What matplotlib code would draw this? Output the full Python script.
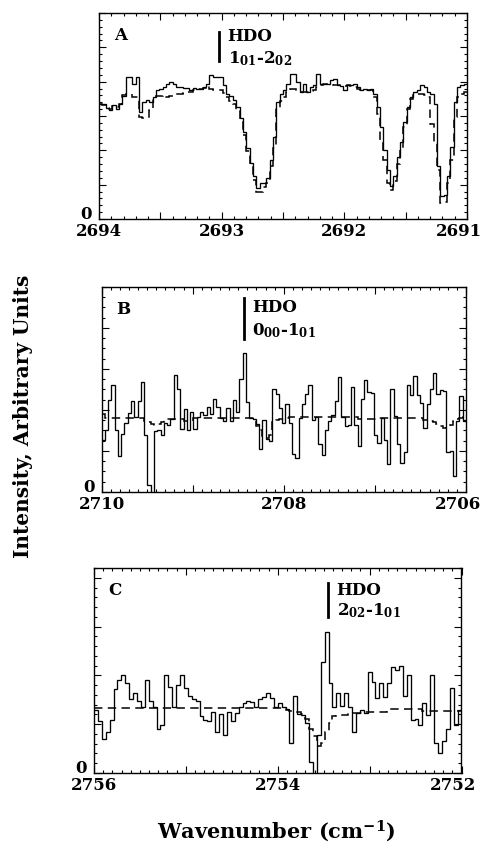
import numpy as np
import matplotlib
matplotlib.use("Agg")
import matplotlib.pyplot as plt
from matplotlib.ticker import MultipleLocator
from matplotlib.transforms import ScaledTranslation

plt.rcParams['font.family'] = ['DejaVu Serif']
plt.rcParams['font.weight'] = 'bold'
plt.rcParams['mathtext.fontset'] = 'dejavuserif'

# panel A: 2694 -> 2691 cm-1, values left to right as drawn
range_a = (2694, 2691)
flux_a = [3.36, 3.36, 3.22, 3.17, 3.33, 3.19, 3.36, 3.57, 4.15, 4.15,
          3.92, 4.15, 3.12, 3.41, 3.46, 3.41, 3.56, 3.77, 3.80, 3.85,
          3.94, 3.99, 3.92, 3.85, 3.85, 3.83, 3.83, 3.77, 3.83, 3.80,
          3.80, 3.85, 3.92, 4.18, 4.15, 4.15, 4.14, 3.89, 3.65, 3.57,
          3.46, 3.27, 2.93, 2.54, 2.06, 1.62, 1.24, 0.90, 1.04, 1.06,
          1.19, 1.72, 2.40, 3.41, 3.65, 3.75, 3.94, 4.23, 4.23, 3.99,
          3.70, 3.94, 3.70, 3.85, 3.89, 4.23, 3.94, 3.92, 3.92, 4.04,
          4.09, 3.89, 3.86, 3.75, 3.89, 3.89, 3.94, 3.85, 3.75, 3.80,
          3.75, 3.80, 3.65, 3.27, 2.69, 2.01, 1.43, 0.95, 1.24, 1.82,
          2.25, 2.83, 3.27, 3.56, 3.70, 3.75, 3.89, 3.85, 3.70, 3.65,
          3.36, 1.53, 0.66, 0.71, 1.24, 2.11, 3.41, 3.85, 3.89, 3.94]
model_a = [3.36, 3.32, 3.24, 3.20, 3.30, 3.26, 3.36, 3.60, 3.65, 3.65,
           3.54, 3.54, 2.98, 2.95, 2.95, 3.17, 3.50, 3.57, 3.57, 3.60,
           3.55, 3.57, 3.62, 3.65, 3.65, 3.68, 3.70, 3.70, 3.75, 3.80,
           3.80, 3.82, 3.86, 3.80, 3.77, 3.77, 3.75, 3.67, 3.55, 3.45,
           3.35, 3.15, 2.85, 2.45, 1.98, 1.55, 1.15, 0.80, 0.80, 0.92,
           1.05, 1.53, 2.06, 3.22, 3.45, 3.56, 3.70, 3.78, 3.80, 3.72,
           3.70, 3.70, 3.70, 3.72, 3.75, 3.85, 3.90, 3.92, 3.92, 3.92,
           3.90, 3.89, 3.89, 3.88, 3.89, 3.87, 3.85, 3.80, 3.77, 3.77,
           3.77, 3.75, 3.55, 3.07, 2.30, 1.72, 1.04, 0.85, 1.10, 1.60,
           2.01, 2.69, 3.20, 3.50, 3.60, 3.65, 3.65, 3.60, 3.56, 2.78,
           2.20, 1.43, 0.46, 0.50, 1.04, 1.72, 2.98, 3.56, 3.65, 3.70]

# panel B: 2710 -> 2706 cm-1
range_b = (2710, 2706)
flux_b = [1.28, 1.52, 2.24, 2.60, 1.52, 0.88, 1.42, 1.68, 1.92, 2.22,
          1.82, 2.22, 2.68, 1.40, 0.16, -0.30, 1.48, 1.52, 1.40, 1.68,
          1.64, 1.78, 2.86, 2.50, 1.54, 2.02, 1.52, 1.94, 1.54, 1.82,
          1.96, 1.88, 2.08, 1.90, 2.28, 2.08, 1.80, 1.74, 2.04, 1.72,
          2.24, 1.96, 2.76, 3.38, 2.20, 1.80, 1.78, 1.66, 1.04, 1.76,
          1.30, 1.24, 2.52, 2.40, 2.04, 1.68,
          2.14, 1.68, 0.92, 0.84, 1.80, 2.14, 2.40, 2.60, 1.76, 1.82,
          1.16, 0.90, 1.52, 1.74, 1.88, 2.22, 2.80, 1.84, 1.60, 1.64,
          2.56, 1.64, 1.12, 2.28, 2.72, 2.44, 2.42, 1.38, 1.20, 1.80,
          1.28, 0.68, 2.52, 1.86, 1.16, 0.70, 0.98, 2.60, 2.36, 2.82,
          2.36, 2.18, 1.56, 2.14, 2.52, 2.90, 2.40, 2.48, 2.46, 0.98,
          1.00, 0.40, 1.72, 2.34, 1.72]
model_b = [1.90, 1.81, 1.81, 1.81, 1.81, 1.81, 1.81, 1.81, 1.81, 1.81,
           1.81, 1.81, 1.81, 1.72, 1.70, 1.66, 1.64, 1.66, 1.70, 1.76,
           1.78, 1.78, 1.78, 1.78, 1.78, 1.72, 1.72, 1.72, 1.80, 1.80,
           1.80, 1.80, 1.80, 1.80, 1.80, 1.80, 1.80, 1.80, 1.80, 1.80,
           1.80, 1.80, 1.80, 1.80, 1.80, 1.80, 1.80, 1.62, 1.50, 1.36,
           1.32, 1.40, 1.70, 1.76, 1.78, 1.79, 1.80, 1.82, 1.82, 1.82,
           1.82, 1.82, 1.82, 1.82, 1.82, 1.82, 1.82, 1.82, 1.82, 1.82,
           1.82, 1.82, 1.82, 1.82, 1.82, 1.82, 1.82, 1.82, 1.78, 1.78,
           1.78, 1.78, 1.78, 1.78, 1.81, 1.81, 1.81, 1.81, 1.81, 1.81,
           1.81, 1.81, 1.81, 1.81, 1.81, 1.81, 1.81, 1.81, 1.76, 1.74,
           1.72, 1.70, 1.66, 1.60, 1.56, 1.58, 1.64, 1.72, 1.78, 1.80,
           1.82]

# panel C: 2756 -> 2752 cm-1
range_c = (2756, 2752)
flux_c = [1.30, 1.06, 0.70, 0.83, 1.09, 1.72, 1.91, 2.01, 1.84, 1.51,
          1.64, 1.47, 1.35, 1.90, 1.47, 1.35, 0.90, 0.99, 2.01, 1.77,
          1.36, 1.81, 2.01, 1.74, 1.57, 1.52, 1.47, 1.16, 1.09, 1.06,
          1.24, 0.85, 1.21, 0.78, 1.24, 1.06, 1.23, 1.35, 1.43, 1.48,
          1.45, 1.36, 1.51, 1.55, 1.64, 1.53, 1.36, 1.43, 1.35, 1.31,
          0.61, 1.57, 1.21, 1.19, 1.02, 0.22, -0.30, 0.78, 2.28, 2.88,
          1.84, 1.36, 1.64, 1.38, 1.64, 1.36, 0.85, 1.23, 1.30, 1.23,
          2.06, 1.87, 1.53, 1.84, 1.55, 1.84, 2.17, 2.11, 2.20, 1.57,
          2.01, 1.09, 1.10, 0.99, 1.43, 1.19, 2.00, 0.61, 0.41, 0.65,
          0.90, 1.74, 0.99, 1.30]
model_c = [1.34, 1.34, 1.34, 1.34, 1.34, 1.34, 1.34, 1.34, 1.34, 1.34,
           1.34, 1.34, 1.34, 1.34, 1.34, 1.34, 1.34, 1.34, 1.34, 1.34,
           1.34, 1.34, 1.34, 1.34, 1.34, 1.34, 1.34, 1.34, 1.34, 1.34,
           1.34, 1.34, 1.34, 1.34, 1.34, 1.34, 1.34, 1.34, 1.34, 1.34,
           1.34, 1.34, 1.34, 1.34, 1.34, 1.34, 1.34, 1.34, 1.34, 1.30,
           1.28, 1.28, 1.26, 1.20, 1.10, 0.90, 0.75, 0.56, 0.62, 0.85,
           1.02, 1.16, 1.19, 1.19, 1.19, 1.23, 1.23, 1.23, 1.23, 1.26,
           1.26, 1.26, 1.26, 1.26, 1.26, 1.32, 1.32, 1.32, 1.32, 1.32,
           1.32, 1.32, 1.32, 1.32, 1.28, 1.28, 1.28, 1.28, 1.28, 1.28,
           1.28, 1.28, 1.28, 1.28]

# HDO line positions and labels
line_a, label_a = 2693.02, r'1$_{\mathbf{01}}$-2$_{\mathbf{02}}$'
line_b, label_b = 2708.44, r'0$_{\mathbf{00}}$-1$_{\mathbf{01}}$'
line_c, label_c = 2753.45, r'2$_{\mathbf{02}}$-1$_{\mathbf{01}}$'

W, H = 491, 846
fig = plt.figure(figsize=(W / 100, H / 100), dpi=100)


def px_axes(left, right, top, bottom):
    return fig.add_axes([left / W, 1 - bottom / H, (right - left) / W, (bottom - top) / H])


def draw_panel(ax, xr, flux, model, ymax, ymin_step, xmaj, xlab_step, xmin_step,
               letter, line_x, label, bar, text_y):
    edges = np.linspace(xr[0], xr[1], len(flux) + 1)
    ax.stairs(flux, edges, baseline=None, color='k', lw=0.95)
    edges_m = np.linspace(xr[0], xr[1], len(model) + 1)
    ax.stairs(model, edges_m, baseline=None, color='k', lw=1.1,
              linestyle=(0, (5.5, 3.5)))
    ax.set_xlim(xr[0], xr[1])
    ax.set_ylim(0, ymax)

    lo, hi = min(xr), max(xr)
    ticks = np.arange(lo, hi + 1e-6, xmaj)
    labels = [str(int(round(t))) if abs((t - lo) / xlab_step - round((t - lo) / xlab_step)) < 1e-6 else ''
              for t in ticks]
    ax.set_xticks(ticks, labels)
    ax.xaxis.set_minor_locator(MultipleLocator(xmin_step))
    ax.set_yticks(np.arange(0, int(ymax) + 1, 1), [])
    ax.yaxis.set_minor_locator(MultipleLocator(ymin_step))
    ax.tick_params(which='both', direction='in', top=True, right=True, width=0.8)
    ax.tick_params(which='major', length=5)
    ax.tick_params(which='minor', length=2.5)
    ax.tick_params(axis='x', which='major', pad=3, labelsize=12)
    for s in ax.spines.values():
        s.set_linewidth(1.0)

    # leftmost label sits a bit left of its tick
    first = ax.get_xticklabels()[0]
    first.set_transform(first.get_transform() + ScaledTranslation(-8 / 100, 0, fig.dpi_scale_trans))

    ax.annotate('0', xy=(0, 0), xycoords=('axes fraction', 'data'),
                xytext=(-5, 0), textcoords='offset points',
                ha='right', va='baseline', fontsize=12, fontweight='bold')
    ax.text(0.04, 0.93, letter, transform=ax.transAxes, ha='left', va='top',
            fontsize=12, fontweight='bold')

    ax.plot([line_x, line_x], bar, color='k', lw=2.0,
            transform=ax.get_xaxis_transform(), clip_on=False)
    ax.annotate('HDO', xy=(line_x, text_y[0]), xycoords=ax.get_xaxis_transform(),
                xytext=(6, 0), textcoords='offset points', ha='left', va='baseline',
                fontsize=12, fontweight='bold')
    ax.annotate(label, xy=(line_x, text_y[1]), xycoords=ax.get_xaxis_transform(),
                xytext=(6, 0), textcoords='offset points', ha='left', va='baseline',
                fontsize=12, fontweight='bold')


ax_a = px_axes(99, 467, 13, 219)
draw_panel(ax_a, range_a, flux_a, model_a, 6, 0.2, 0.5, 1, 0.1,
           'A', line_a, label_a, (0.908, 0.767), (0.862, 0.757))

ax_b = px_axes(101.5, 466, 287, 492)
draw_panel(ax_b, range_b, flux_b, model_b, 5, 0.25, 1, 2, 0.1,
           'B', line_b, label_b, (0.946, 0.746), (0.876, 0.762))

ax_c = px_axes(94, 461.5, 568, 773)
draw_panel(ax_c, range_c, flux_c, model_c, 4.2, 0.2, 1, 2, 0.1,
           'C', line_c, label_c, (0.927, 0.761), (0.868, 0.770))

fig.text(23 / W, 1 - 416 / H, 'Intensity, Arbitrary Units', rotation=90,
         ha='center', va='center', fontsize=14.5, fontweight='bold')
fig.text(276 / W, 1 - 838 / H, r'Wavenumber (cm$^{\mathbf{-1}}$)',
         ha='center', va='baseline', fontsize=15, fontweight='bold')

fig.savefig('out.png', dpi=100)
